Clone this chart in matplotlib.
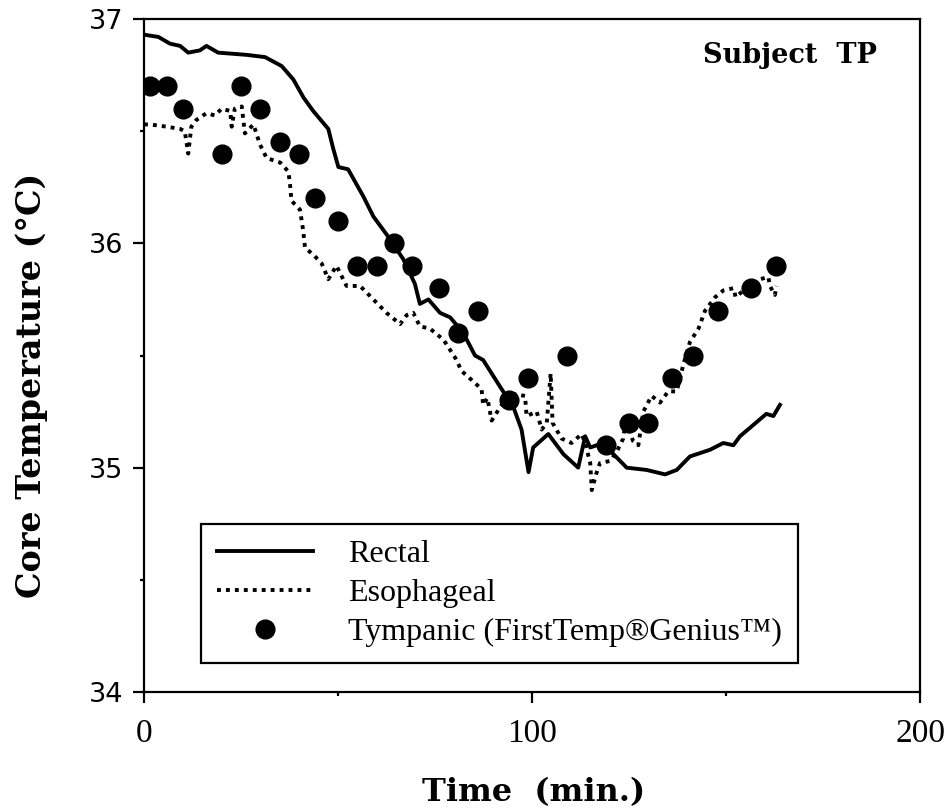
#
# Core temperature during cooling, subject TP
#
import matplotlib
matplotlib.use('Agg')
import matplotlib.pyplot as plt
from matplotlib.ticker import MultipleLocator

# Rectal temperature (solid line)
rect_t = [0, 3.7, 6.7, 9.3, 11.4, 14.4, 16.1, 19.1, 26.5, 31.2, 35.5, 38.5, 41.1, 43.6,
          47.5, 48.8, 50.1, 52.6, 56.5, 59.1, 62.5, 66.8, 69.8, 71.1, 73.3, 76.3, 78.9,
          82.3, 85.3, 87.4, 91.8, 95.2, 97.3, 99.1, 100.3, 104.2, 108.1, 111.9, 113.7,
          115, 118.4, 121, 124.4, 129.5, 134.3, 137.3, 140.7, 145.9, 149.3, 151.9,
          153.6, 157.0, 160.4, 162.2, 163.9]
rect_v = [36.93, 36.92, 36.89, 36.88, 36.85, 36.86, 36.88, 36.85, 36.84, 36.83, 36.79,
          36.73, 36.65, 36.59, 36.51, 36.42, 36.34, 36.33, 36.21, 36.12, 36.04, 35.93,
          35.82, 35.73, 35.75, 35.69, 35.67, 35.60, 35.50, 35.48, 35.36, 35.27, 35.17,
          34.98, 35.09, 35.15, 35.06, 35.00, 35.14, 35.09, 35.11, 35.06, 35.00, 34.99,
          34.97, 34.99, 35.05, 35.08, 35.11, 35.10, 35.14, 35.19, 35.24, 35.23, 35.28]

# Esophageal temperature (dotted line)
eso_t = [0, 1.5, 5.8, 9.3, 10.5, 11.4, 12.2, 13.5, 16.1, 18.3, 20, 22.2, 22.6, 23.4,
         25.2, 26, 28.2, 29.9, 31.6, 35.1, 37.2, 37.6, 38, 40.2, 41, 41.5, 43.6, 45.8,
         47.5, 49.6, 52.2, 55.7, 59.1, 62.5, 66, 67.7, 69.4, 71.1, 73.7, 77.2, 80.2,
         81.9, 84.5, 87, 87.4, 88.5, 89.6, 91.8, 94.3, 98.2, 98.6, 99.9, 101.2, 102.5,
         103.8, 104.8, 105.3, 107.6, 110.2, 112.8, 113.7, 115, 115.4, 116.5, 117.5,
         120.1, 121.8, 123.5, 124.2, 126, 127.4, 128.7, 130.8, 133, 135.1, 137.3, 139,
         140.7, 142.9, 144.6, 147.2, 149.3, 151.9, 152.5, 154.5, 157, 158.8, 160.9,
         161.3, 162.6, 163]
eso_v = [36.53, 36.53, 36.52, 36.51, 36.50, 36.40, 36.52, 36.55, 36.58, 36.57, 36.60,
         36.59, 36.52, 36.60, 36.61, 36.49, 36.53, 36.44, 36.38, 36.36, 36.32, 36.27,
         36.19, 36.15, 36.06, 35.98, 35.95, 35.91, 35.84, 35.90, 35.81, 35.81, 35.75,
         35.69, 35.64, 35.68, 35.69, 35.63, 35.62, 35.57, 35.49, 35.43, 35.39, 35.35,
         35.28, 35.31, 35.21, 35.27, 35.33, 35.32, 35.23, 35.24, 35.25, 35.17, 35.20,
         35.42, 35.20, 35.13, 35.11, 35.15, 35.11, 35.02, 34.90, 34.97, 35.02, 35.03,
         35.07, 35.13, 35.22, 35.12, 35.10, 35.25, 35.32, 35.29, 35.34, 35.34, 35.46,
         35.56, 35.62, 35.70, 35.76, 35.79, 35.80, 35.76, 35.79, 35.82, 35.84, 35.85,
         35.81, 35.77, 35.81]

# Tympanic readings (dots)
tymp_t = [1.5, 6, 10, 20, 25, 30, 35, 40, 44, 50, 55, 60, 64.5, 69, 76, 81, 86, 94, 99,
          109, 119, 125, 130, 136, 141.5, 148, 156.5, 163]
tymp_v = [36.7, 36.7, 36.6, 36.4, 36.7, 36.6, 36.45, 36.4, 36.2, 36.1, 35.9, 35.9, 36.0,
          35.9, 35.8, 35.6, 35.7, 35.3, 35.4, 35.5, 35.1, 35.2, 35.2, 35.4, 35.5, 35.7,
          35.8, 35.9]

fig = plt.figure(figsize=(9.48, 8.11), dpi=100)
ax = fig.add_axes([0.1519, 0.1467, 0.8186, 0.8299])

ax.plot(rect_t, rect_v, color='black', lw=2.8, solid_joinstyle='round', label='Rectal')
ax.plot(eso_t, eso_v, color='black', lw=2.8, linestyle=(0, (1.0, 1.3)),
        dash_capstyle='butt', label='Esophageal')
ax.plot(tymp_t, tymp_v, 'o', color='black', ms=13.5, label='Tympanic (FirstTemp®Genius™)')

ax.set_xlim(0, 200)
ax.set_ylim(34, 37)
ax.xaxis.set_major_locator(MultipleLocator(100))
ax.xaxis.set_minor_locator(MultipleLocator(50))
ax.yaxis.set_major_locator(MultipleLocator(1))
ax.yaxis.set_minor_locator(MultipleLocator(0.5))

for s in ax.spines.values():
    s.set_linewidth(1.6)
ax.tick_params(which='major', direction='out', length=8, width=1.6)
ax.tick_params(which='minor', direction='out', length=3, width=1.6)
ax.tick_params(axis='x', pad=11)
ax.tick_params(axis='y', pad=7)
for lab in ax.get_xticklabels():
    lab.set_fontfamily('Liberation Serif')
    lab.set_fontsize(24)
for lab in ax.get_yticklabels():
    lab.set_fontfamily('DejaVu Sans')
    lab.set_fontsize(19.5)

ax.set_xlabel('Time  (min.)', fontfamily='DejaVu Serif', fontweight='bold', fontsize=23)
ax.set_ylabel('Core Temperature (°C)', fontfamily='DejaVu Serif', fontweight='bold',
              fontsize=24)
ax.xaxis.set_label_coords(0.502, -0.126)
ax.yaxis.set_label_coords(-0.124, 0.455)

ax.text(0.945, 0.945, 'Subject  TP', transform=ax.transAxes, ha='right', va='center',
        fontfamily='DejaVu Serif', fontweight='bold', fontsize=19.5)

leg = ax.legend(loc='lower left', bbox_to_anchor=(0.0735, 0.0431), borderaxespad=0,
                fancybox=False, framealpha=1, edgecolor='black',
                prop={'family': 'Liberation Serif', 'size': 23},
                handlelength=3.0, handletextpad=1.1, borderpad=0.5, labelspacing=0.3)
leg.get_frame().set_linewidth(1.6)

fig.savefig('out.png', dpi=100)
